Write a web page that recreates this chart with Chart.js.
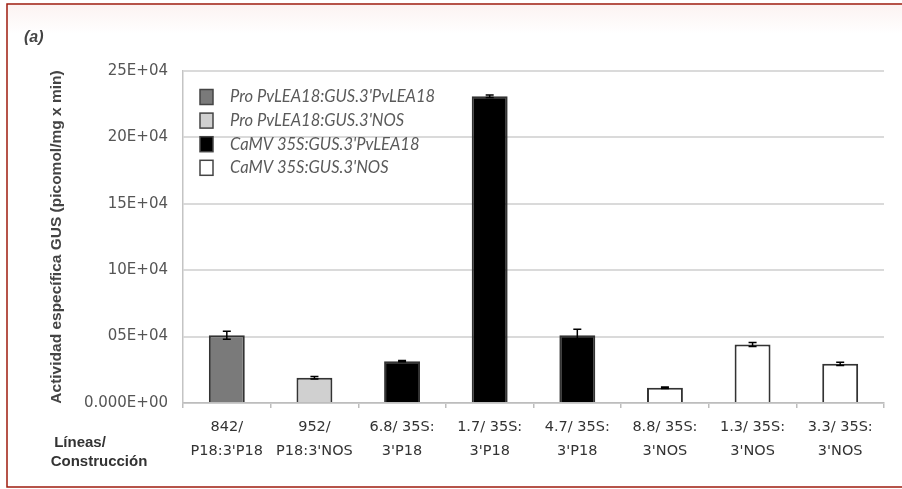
<!DOCTYPE html>
<html>
<head>
<meta charset="utf-8">
<script src="https://cdn.jsdelivr.net/npm/chart.js@4/dist/chart.umd.min.js"></script>
<style>
  html, body { margin: 0; padding: 0; background: #ffffff; }
  #wrap { width: 902px; height: 489px; position: relative; }
</style>
</head>
<body>
<div id="wrap"><canvas id="c" width="902" height="489"></canvas></div>
<script>
// Transgenic lines / construct, two-line tick labels
const lineLabels = [
  ['842/', "P18:3'P18"],
  ['952/', "P18:3'NOS"],
  ['6.8/ 35S:', "3'P18"],
  ['1.7/ 35S:', "3'P18"],
  ['4.7/ 35S:', "3'P18"],
  ['8.8/ 35S:', "3'NOS"],
  ['1.3/ 35S:', "3'NOS"],
  ['3.3/ 35S:', "3'NOS"]
];
// GUS specific activity, in units of 1E+04 picomol/mg x min
const gusActivity = [5.1, 1.9, 3.15, 23.1, 5.1, 1.15, 4.4, 2.95];
const gusError = [0.3, 0.1, 0.05, 0.1, 0.45, 0.05, 0.15, 0.12];
// Construct of each line (index into constructNames)
const lineConstruct = [0, 1, 2, 2, 2, 3, 3, 3];
const constructNames = [
  "Pro PvLEA18:GUS.3'PvLEA18",
  "Pro PvLEA18:GUS.3'NOS",
  "CaMV 35S:GUS.3'PvLEA18",
  "CaMV 35S:GUS.3'NOS"
];
const constructFill = ['#7a7a7a', '#d0d0d0', '#000000', '#ffffff'];
// Y tick labels as printed on the axis
const yTickLabels = { 0: '0.000E+00', 5: '05E+04', 10: '10E+04', 15: '15E+04', 20: '20E+04', 25: '25E+04' };

const frameAndNotes = {
  id: 'frameAndNotes',
  beforeDraw(chart) {
    const ctx = chart.ctx;
    ctx.save();
    const g = ctx.createLinearGradient(0, 5, 0, 34);
    g.addColorStop(0, '#fcf3f2');
    g.addColorStop(1, '#ffffff');
    ctx.fillStyle = g;
    ctx.fillRect(8, 5, 900, 29);
    ctx.restore();
  },
  afterDraw(chart) {
    const ctx = chart.ctx;
    ctx.save();
    ctx.strokeStyle = '#9e1b0e';
    ctx.lineWidth = 1.5;
    ctx.strokeRect(7, 4, 910, 483);
    ctx.fillStyle = '#444';
    ctx.font = 'italic bold 16px "Liberation Sans"';
    ctx.textBaseline = 'middle';
    ctx.textAlign = 'left';
    ctx.fillText('(a)', 24, 38);
    ctx.fillStyle = '#333';
    ctx.font = 'bold 15px "Liberation Sans"';
    ctx.textAlign = 'center';
    ctx.fillText('Líneas/', 80, 443);
    ctx.fillText('Construcción', 99, 462);
    // legend
    ctx.font = 'italic 16.5px Lato';
    ctx.textAlign = 'left';
    constructNames.forEach((name, i) => {
      const y = 97 + i * 23.6;
      ctx.fillStyle = constructFill[i];
      ctx.fillRect(200, y - 7.5, 13, 15);
      ctx.strokeStyle = '#444';
      ctx.lineWidth = 1.5;
      ctx.strokeRect(200, y - 7.5, 13, 15);
      ctx.fillStyle = '#5a5a5a';
      ctx.fillText(name, 230, y);
    });
    ctx.restore();
  }
};

const errorBars = {
  id: 'errorBars',
  afterDatasetsDraw(chart) {
    const ctx = chart.ctx;
    const meta = chart.getDatasetMeta(0);
    const ys = chart.scales.y;
    ctx.save();
    ctx.strokeStyle = '#000';
    ctx.lineWidth = 1.5;
    meta.data.forEach((bar, i) => {
      const v = gusActivity[i], e = gusError[i];
      const yTop = ys.getPixelForValue(v + e);
      const yBot = ys.getPixelForValue(v - e);
      ctx.beginPath();
      ctx.moveTo(bar.x, yTop); ctx.lineTo(bar.x, yBot);
      ctx.moveTo(bar.x - 4, yTop); ctx.lineTo(bar.x + 4, yTop);
      ctx.moveTo(bar.x - 4, yBot); ctx.lineTo(bar.x + 4, yBot);
      ctx.stroke();
    });
    ctx.restore();
  }
};

new Chart(document.getElementById('c'), {
  type: 'bar',
  data: {
    labels: lineLabels,
    datasets: [{
      data: gusActivity,
      backgroundColor: lineConstruct.map(k => constructFill[k]),
      borderColor: '#333',
      borderWidth: 2,
      barPercentage: 0.41,
      categoryPercentage: 1
    }]
  },
  options: {
    responsive: false,
    animation: false,
    events: [],
    layout: { padding: { left: 0, top: 71, right: 18, bottom: 26 } },
    plugins: { legend: { display: false }, tooltip: { enabled: false } },
    scales: {
      x: {
        afterFit(s) { s.height = 60; },
        grid: { offset: true, drawOnChartArea: false, drawTicks: true, tickLength: 5, color: '#bdbdbd', lineWidth: 1.5 },
        border: { color: '#bdbdbd', width: 1.5 },
        ticks: {
          color: '#333',
          font: { family: '"DejaVu Sans"', size: 14.5, lineHeight: 1.6 },
          padding: 8,
          maxRotation: 0,
          autoSkip: false
        }
      },
      y: {
        min: 0, max: 25,
        afterFit(s) { s.width = 183; },
        grid: { color: '#dadada', lineWidth: 2, drawTicks: false },
        border: { color: '#c4c4c4', width: 1.5 },
        ticks: {
          stepSize: 5,
          padding: 15,
          color: '#555',
          font: { family: '"DejaVu Sans"', size: 15 },
          callback: v => yTickLabels[v]
        },
        title: {
          display: true,
          text: 'Actividad específica GUS (picomol/mg x min)',
          color: '#444',
          font: { family: '"Liberation Sans"', size: 15.5, weight: 'bold' },
          padding: { top: 47, bottom: 0 }
        }
      }
    }
  },
  plugins: [frameAndNotes, errorBars]
});
</script>
</body>
</html>
